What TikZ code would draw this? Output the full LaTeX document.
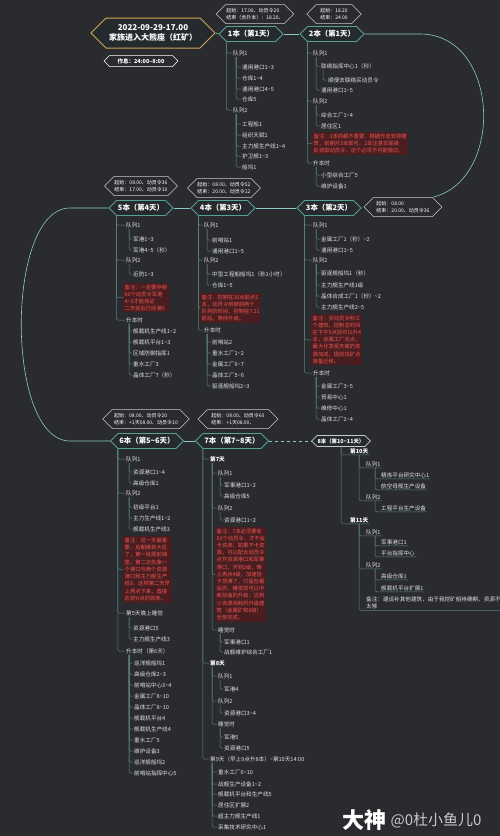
\documentclass[tikz,border=0pt]{standalone}
\usepackage{fontspec}
\setmainfont{Noto Sans CJK SC}
\usetikzlibrary{shapes.symbols}
\newcommand\til{\textasciitilde}
\definecolor{bgc}{RGB}{42,43,47}
\definecolor{hexfill}{RGB}{36,42,46}
\definecolor{tealc}{RGB}{86,160,150}
\definecolor{arcc}{RGB}{140,200,200}
\definecolor{branchc}{RGB}{90,130,130}
\definecolor{leafc}{RGB}{225,225,225}
\definecolor{notebg}{RGB}{74,30,33}
\definecolor{notetx}{RGB}{235,85,80}
\definecolor{goldc}{RGB}{205,165,85}
\definecolor{infoc}{RGB}{200,200,200}
\begin{document}
\begin{tikzpicture}
[x = 1pt,
y = -1pt,
titlehex/.style = {signal, signal to=west and east, draw=goldc, line width=1pt, fill=hexfill, text=white, font=\fontsize{8}{10}\selectfont\bfseries, align=center, minimum height=30pt, inner xsep=3pt},
benhex/.style = {signal, signal to=west and east, draw=tealc, line width=0.9pt, fill=hexfill, text=white, font=\fontsize{7.4}{8}\selectfont\bfseries, minimum height=15pt, inner xsep=1.5pt, inner ysep=0pt},
infohex/.style = {signal, signal to=west and east, draw=infoc, line width=0.5pt, fill=bgc, text=white, font=\fontsize{5}{6.8}\selectfont, align=left, minimum height=19pt, inner xsep=0.5pt, inner ysep=1pt},
leaf/.style = {anchor=west, text=leafc, font=\fontsize{5.6}{6.5}\selectfont, inner sep=1pt},
dayleaf/.style = {leaf, font=\fontsize{5.6}{6.5}\selectfont\bfseries, text=white},
note/.style = {anchor=north west, fill=notebg, text=notetx, font=\fontsize{5.3}{7.2}\selectfont, align=left, inner sep=1.5pt},
branch/.style = {draw=branchc, line width=0.5pt, rounded corners=1.5pt},
mainline/.style = {draw=arcc, line width=0.6pt}]
\fill[bgc] (0,0) rectangle (500,836);
\useasboundingbox (0,0) rectangle (500,836);

\node[titlehex] (title) at (153,33) {2022-09-29-17.00\\家族进入大熊座（红矿）};
\node[infohex, draw=white, font=\fontsize{5.5}{6.5}\selectfont\bfseries, minimum height=11pt, inner xsep=8pt] (rest) at (141,61) {作息：24:00--8:00};

\node[benhex] (b1) at (251,34) {1本（第1天）};
\node[infohex] (i1) at (255,14) {起始：17.00、动员令20\\结束（含升本）：18.20、};
\node[benhex] (b2) at (332,34) {2本（第1天）};
\node[infohex, inner xsep=4pt] (i2) at (334,14) {起始：18.20\\结束：24.00};
\node[benhex] (b3) at (329,208) {3本（第2天）};
\node[infohex, inner xsep=3pt] (i3) at (403,207) {起始：08.00\\结束：20.00、动员令36};
\node[benhex] (b4) at (223,208) {4本（第3天）};
\node[infohex] (i4) at (224,188) {起始：08.00、动员令52\\结束：20.00、动员令12};
\node[benhex] (b5) at (141,208) {5本（第4天）};
\node[infohex] (i5) at (141,186) {起始：08.00、动员令36\\结束：17.00、动员令10};
\node[benhex] (b6) at (147,441) {6本（第5\til6天）};
\node[infohex, inner xsep=2pt] (i6) at (146,419) {起始：08.00、动员令20\\结束：+1天08.00、动员令10};
\node[benhex] (b7) at (232,441) {7本（第7\til8天）};
\node[infohex, inner xsep=4pt] (i7) at (238,419) {起始：08.00、动员令60\\结束：+1天08.00、};
\node[benhex, font=\fontsize{5.4}{6}\selectfont\bfseries, minimum height=11pt, inner xsep=0.5pt, line width=0.6pt, draw=infoc] (b8) at (341,441) {8本（第10\til11天）};

\draw[mainline] (title.east) -- (b1.west);
\draw[mainline] (b1.east) -- (b2.west);
\draw[mainline] (b2.east) -- (420,34) .. controls (500,34) and (505,180) .. (i3.north east);
\draw[mainline] (b3.west) -- (b4.east);
\draw[mainline] (b4.west) -- (b5.east);
\draw[mainline] (b5.west) -- (70,208) .. controls (5,208) and (5,441) .. (70,441) -- (b6.west);
\draw[mainline] (b6.east) -- (b7.west);
\draw[mainline, dashed] (b7.east) -- (b8.west);

% 1本
\node[leaf] (b1q1) at (232,53) {队列1};
\node[leaf] (b1q2) at (232,110) {队列2};
\foreach \q in {b1q1,b1q2} \draw[branch] (b1.south west) |- (\q.west);
\foreach \n/\y/\tx in {a/67/通用港口1\til3, b/78/仓库1\til4, c/89/通用港口4\til5, d/99/仓库5}
{\node[leaf] (b1q1\n) at (241,\y) {\tx}; \draw[branch] (b1q1.south west) ++(4,0) |- (b1q1\n.west);}
\foreach \n/\y/\tx in {a/124/工程船1, b/135/组织天赋1, c/146/主力舰生产线1\til4, d/156/护卫舰1\til3, e/167/船坞1}
{\node[leaf] (b1q2\n) at (241,\y) {\tx}; \draw[branch] (b1q2.south west) ++(4,0) |- (b1q2\n.west);}

% 2本
\node[leaf] (b2q1) at (312,53) {队列1};
\node[leaf] (b2q2) at (312,101) {队列2};
\node[note] (b2n) at (312,132) {备注：3本前都不重要，根据作息安排建\\筑，前期升3本即可。2本注意去联络\\处领取动员令，这个必须不可能错过。};
\node[leaf] (b2up) at (312,163) {升本时};
\foreach \q in {b2q1,b2q2,b2n,b2up} \draw[branch] (b2.south west) |- (\q.west);
\foreach \n/\y/\tx in {a/66/联络指挥中心1（秒）, b/90/通用港口1\til5}
{\node[leaf] (b2q1\n) at (320,\y) {\tx}; \draw[branch] (b2q1.south west) ++(4,0) |- (b2q1\n.west);}
\node[leaf] (b2q1aa) at (327,80) {顺便去联络买动员令};
\draw[branch] (b2q1a.south west) ++(3,0) |- (b2q1aa.west);
\foreach \n/\y/\tx in {a/115/综合工厂1\til4, b/126/居住区1}
{\node[leaf] (b2q2\n) at (320,\y) {\tx}; \draw[branch] (b2q2.south west) ++(4,0) |- (b2q2\n.west);}
\foreach \n/\y/\tx in {a/175/小型综合工厂5, b/186/维护设备1}
{\node[leaf] (b2up\n) at (320,\y) {\tx}; \draw[branch] (b2up.south west) ++(4,0) |- (b2up\n.west);}

% 3本
\node[leaf] (b3q1) at (312,225) {队列1};
\node[leaf] (b3q2) at (312,260) {队列2};
\node[note] (b3n) at (311,314) {备注：买动员令秒三\\个建筑，控制总时间\\在下午5点前可以升4\\本，金属工厂先点，\\最大化享受天赋的资\\源加成，提前找矿点\\准备迁移。};
\node[leaf] (b3up) at (312,373) {升本时};
\foreach \q in {b3q1,b3q2,b3n,b3up} \draw[branch] (b3.south west) |- (\q.west);
\foreach \n/\y/\tx in {a/239/金属工厂1（秒）\til2, b/250/通用港口1\til5}
{\node[leaf] (b3q1\n) at (320,\y) {\tx}; \draw[branch] (b3q1.south west) ++(4,0) |- (b3q1\n.west);}
\foreach \n/\y/\tx in {a/273/驱逐舰船坞1（秒）, b/285/主力舰生产线1级, c/296/晶体合成工厂1（秒）\til2, d/307/主力舰生产线2\til5}
{\node[leaf] (b3q2\n) at (320,\y) {\tx}; \draw[branch] (b3q2.south west) ++(4,0) |- (b3q2\n.west);}
\foreach \n/\y/\tx in {a/386/金属工厂3\til5, b/397/贸易中心1, c/408/维修中心1, d/419/晶体工厂2\til4}
{\node[leaf] (b3up\n) at (320,\y) {\tx}; \draw[branch] (b3up.south west) ++(4,0) |- (b3up\n.west);}

% 4本
\node[leaf] (b4q1) at (203,225) {队列1};
\node[leaf] (b4q2) at (203,260) {队列2};
\node[note] (b4n) at (200,293) {备注：控制在20点前点5\\本，动员令用掉前两个\\队列的时间，控制在7:21\\前后，等待升级。};
\node[leaf] (b4up) at (203,330) {升本时};
\foreach \q in {b4q1,b4q2,b4n,b4up} \draw[branch] (b4.south west) |- (\q.west);
\foreach \n/\y/\tx in {a/240/前哨站1, b/251/通用港口1\til5}
{\node[leaf] (b4q1\n) at (211,\y) {\tx}; \draw[branch] (b4q1.south west) ++(4,0) |- (b4q1\n.west);}
\foreach \n/\y/\tx in {a/274/中型工程船船坞1（秒1小时）, b/285/仓库1\til5}
{\node[leaf] (b4q2\n) at (211,\y) {\tx}; \draw[branch] (b4q2.south west) ++(4,0) |- (b4q2\n.west);}
\foreach \n/\y/\tx in {a/342/前哨站2, b/353/重水工厂1\til2, c/364/金属工厂6\til7, d/375/晶体工厂5\til6, e/386/驱逐舰船坞2\til3}
{\node[leaf] (b4up\n) at (211,\y) {\tx}; \draw[branch] (b4up.south west) ++(4,0) |- (b4up\n.west);}

% 5本
\node[leaf] (b5q1) at (125,225) {队列1};
\node[leaf] (b5q2) at (125,260) {队列2};
\node[note, font=\fontsize{5.3}{7}\selectfont] (b5n) at (123,283) {备注：一定要存够\\60个动员令军港\\4\til5才能保证\\二天前后已经满5};
\node[leaf] (b5up) at (125,320) {升本时};
\foreach \q in {b5q1,b5q2,b5n,b5up} \draw[branch] (b5.south west) |- (\q.west);
\foreach \n/\y/\tx in {a/239/军港1\til3, b/250/军港4\til5（秒）}
{\node[leaf] (b5q1\n) at (132,\y) {\tx}; \draw[branch] (b5q1.south west) ++(4,0) |- (b5q1\n.west);}
\node[leaf] (b5q2a) at (132,274) {近防1\til3};
\draw[branch] (b5q2.south west) ++(4,0) |- (b5q2a.west);
\foreach \n/\y/\tx in {a/331/舰载机生产线1\til2, b/342/舰载机平台1\til3, c/353/区域防御指挥1, d/364/重水工厂3, e/375/晶体工厂7（秒）}
{\node[leaf] (b5up\n) at (132,\y) {\tx}; \draw[branch] (b5up.south west) ++(4,0) |- (b5up\n.west);}

% 6本
\node[leaf] (b6q1) at (125,459) {队列1};
\node[leaf] (b6q2) at (125,493) {队列2};
\node[note, font=\fontsize{5.3}{7.3}\selectfont] (b6n) at (123,536) {备注：这一天最重\\要，后期推到大区\\了，第一批提前铺\\垫，第二次先拿一\\个港口与两个资源\\港口和主力舰生产\\线3，这样第二天早\\上再点下来，直接\\达到Yi点的效率。};
\node[leaf] (b6s) at (125,613) {第5天晚上睡觉};
\node[leaf] (b6up) at (125,651) {升本时（第6天）};
\foreach \q in {b6q1,b6q2,b6n,b6s,b6up} \draw[branch] (b6.south west) |- (\q.west);
\foreach \n/\y/\tx in {a/472/资源港口1\til4, b/483/高级仓库1}
{\node[leaf] (b6q1\n) at (132,\y) {\tx}; \draw[branch] (b6q1.south west) ++(4,0) |- (b6q1\n.west);}
\foreach \n/\y/\tx in {a/507/初级平台1, b/518/主力生产线1\til2, c/529/舰载机生产线3}
{\node[leaf] (b6q2\n) at (132,\y) {\tx}; \draw[branch] (b6q2.south west) ++(4,0) |- (b6q2\n.west);}
\foreach \n/\y/\tx in {a/628/资源港口5, b/639/主力舰生产线3}
{\node[leaf] (b6s\n) at (132,\y) {\tx}; \draw[branch] (b6s.south west) ++(4,0) |- (b6s\n.west);}
\foreach \n/\y/\tx in {a/663/巡洋舰船坞1, b/674/高级仓库2\til3, c/685/前哨站中心3\til4, d/696/金属工厂8\til10, e/707/晶体工厂8\til10, f/718/舰载机平台4, g/729/舰载机生产线4, h/740/重水工厂5, i/751/维护设备3, j/762/巡洋舰船坞2, k/773/前哨站指挥中心5}
{\node[leaf] (b6up\n) at (133,\y) {\tx}; \draw[branch] (b6up.south west) ++(4,0) |- (b6up\n.west);}

% 7本
\node[dayleaf] (b7d7) at (209,459) {第7天};
\node[dayleaf] (b7d8) at (209,663) {第8天};
\node[leaf] (b7d9) at (209,759) {第9天（早上9点升8本）\til{}第10天14:00};
\foreach \q in {b7d7,b7d8,b7d9} \draw[branch] (b7.south west) |- (\q.west);
\node[leaf] (b7q1) at (217,473) {队列1};
\node[leaf] (b7q2) at (217,508) {队列2};
\node[note] (b7n) at (215,527) {备注：7本必须要有\\50个动员令，才不会\\卡资源。如果不卡资\\源，可以配合动员令\\点开资源港口和军事\\港口，开到2级，晚\\上再点4级，加速挂\\卡顶满了，只留在最\\后的，睡觉前可以中\\断前面的升级，达到\\少资源消耗的升级建\\筑（金属矿和6级）\\全部完成。};
\node[leaf] (b7s1) at (217,630) {睡觉时};
\foreach \q in {b7q1,b7q2,b7n,b7s1} \draw[branch] (b7d7.south west) ++(3,0) |- (\q.west);
\foreach \n/\y/\tx in {a/485/军事港口1\til2, b/496/高级仓库5}
{\node[leaf] (b7q1\n) at (223,\y) {\tx}; \draw[branch] (b7q1.south west) ++(3,0) |- (b7q1\n.west);}
\node[leaf] (b7q2a) at (223,520) {资源港口1\til2};
\draw[branch] (b7q2.south west) ++(3,0) |- (b7q2a.west);
\foreach \n/\y/\tx in {a/642/军事港口1, b/652/战舰维护综合工厂1}
{\node[leaf] (b7s1\n) at (223,\y) {\tx}; \draw[branch] (b7s1.south west) ++(3,0) |- (b7s1\n.west);}
\node[leaf] (b7q3) at (217,676) {队列1};
\node[leaf] (b7q4) at (217,701) {队列2};
\node[leaf] (b7s2) at (217,724) {睡觉时};
\foreach \q in {b7q3,b7q4,b7s2} \draw[branch] (b7d8.south west) ++(3,0) |- (\q.west);
\node[leaf] (b7q3a) at (223,689) {军港4};
\draw[branch] (b7q3.south west) ++(3,0) |- (b7q3a.west);
\node[leaf] (b7q4a) at (223,713) {资源港口3\til4};
\draw[branch] (b7q4.south west) ++(3,0) |- (b7q4a.west);
\foreach \n/\y/\tx in {a/737/军港5, b/748/资源港口5}
{\node[leaf] (b7s2\n) at (223,\y) {\tx}; \draw[branch] (b7s2.south west) ++(3,0) |- (b7s2\n.west);}
\foreach \n/\y/\tx in {a/772/重水工厂6\til10, b/784/战舰生产设备1\til2, c/794/舰载机平台和生产线5, d/805/居住区扩展2, e/816/超主力舰生产线1, f/827/采集技术研究中心1}
{\node[leaf] (b7d9\n) at (217,\y) {\tx}; \draw[branch] (b7d9.south west) ++(3,0) |- (b7d9\n.west);}

% 8本 (underlined topics)
\node[dayleaf] (b8d10) at (349,451) {第10天};
\node[dayleaf] (b8d11) at (349,520) {第11天};
\foreach \q in {b8d10,b8d11} \draw[branch] (b8.south) |- (\q.south west) -- (\q.south east);
\node[leaf] (b8q1) at (365,464) {队列1};
\node[leaf] (b8q2) at (365,497) {队列2};
\foreach \q in {b8q1,b8q2} \draw[branch] (b8d10.south west) ++(10,0) |- (\q.south west) -- (\q.south east);
\node[leaf] (b8q3) at (365,532) {队列1};
\node[leaf] (b8q4) at (365,565) {队列2};
\node[leaf, align=left, font=\fontsize{5.6}{7}\selectfont] (b8r) at (365,603) {备注：建设补其他建筑，由于我挖矿船待确期，资源不\\太够};
\foreach \q in {b8q3,b8q4} \draw[branch] (b8d11.south west) ++(10,0) |- (\q.south west) -- (\q.south east);
\draw[branch] (b8d11.south west) ++(10,0) |- ([xshift=-3pt]b8r.south west) -- (b8r.south east);
\foreach \n/\y/\tx in {a/475/精炼平台研究中心1, b/486/航空母舰生产设备}
{\node[leaf] (b8q1\n) at (380,\y) {\tx}; \draw[branch] (b8q1.south west) ++(10,0) |- (b8q1\n.south west) -- (b8q1\n.south east);}
\node[leaf] (b8q2a) at (380,508) {工程平台生产设备};
\draw[branch] (b8q2.south west) ++(10,0) |- (b8q2a.south west) -- (b8q2a.south east);
\foreach \n/\y/\tx in {a/542/军事港口1, b/553/平台指挥中心}
{\node[leaf] (b8q3\n) at (380,\y) {\tx}; \draw[branch] (b8q3.south west) ++(10,0) |- (b8q3\n.south west) -- (b8q3\n.south east);}
\foreach \n/\y/\tx in {a/576/高级仓库1, b/588/舰载机平台扩展1}
{\node[leaf] (b8q4\n) at (380,\y) {\tx}; \draw[branch] (b8q4.south west) ++(10,0) |- (b8q4\n.south west) -- (b8q4\n.south east);}

\node[anchor=west, text=white, font=\fontsize{22}{24}\selectfont\bfseries, inner sep=0pt] (wm1) at (342,820) {大神};
\node[anchor=west, text=infoc, font=\fontsize{15}{17}\selectfont, inner sep=0pt] (wm2) at ([xshift=4pt]wm1.east) {@0杜小鱼儿0};
\end{tikzpicture}
\end{document}
